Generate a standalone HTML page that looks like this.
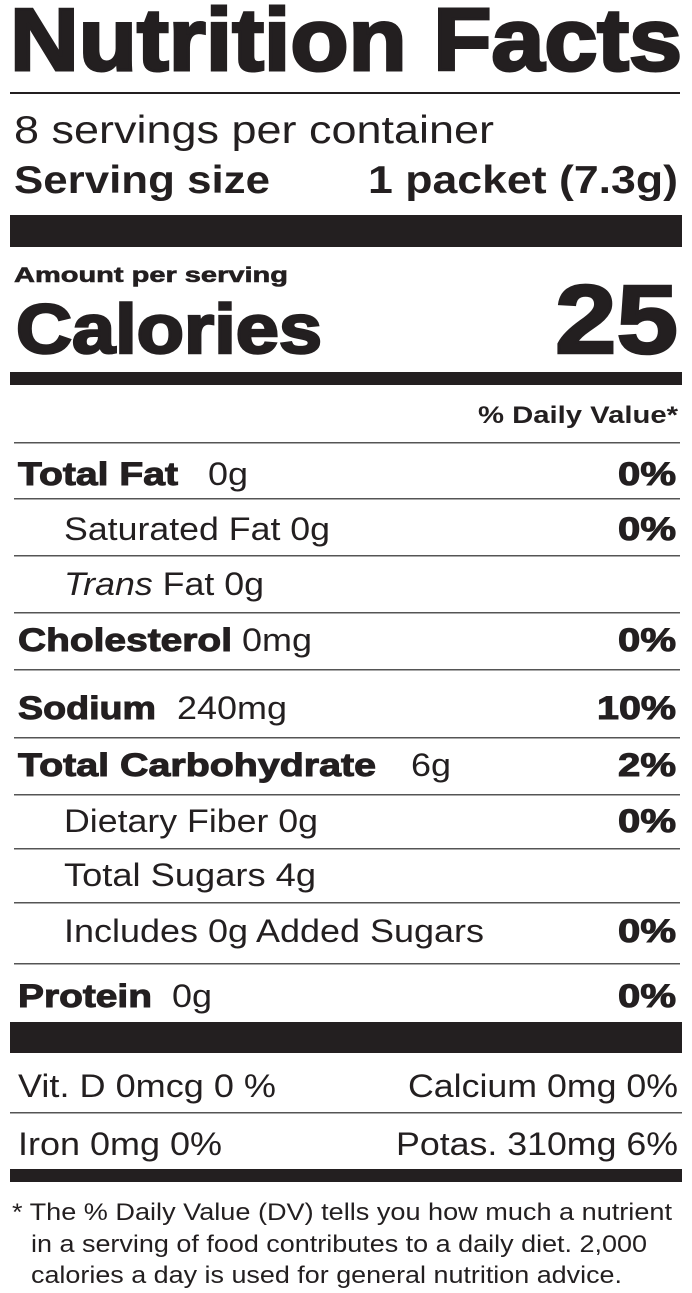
<!DOCTYPE html>
<html><head><meta charset="utf-8"><style>
html,body{margin:0;padding:0;background:#fff}
svg{display:block}
text{font-family:"Liberation Sans",Arial,sans-serif;fill:#231f20}
.b{font-weight:bold}
</style></head><body>
<svg width="692" height="1293" viewBox="0 0 692 1293" xmlns="http://www.w3.org/2000/svg">
<text x="10" y="70" class="b" font-size="88" textLength="672" lengthAdjust="spacingAndGlyphs" stroke="#231f20" stroke-width="3">Nutrition Facts</text>
<rect x="10" y="92" width="670" height="2" fill="#231f20"/>
<text x="14" y="143" font-size="39" textLength="480" lengthAdjust="spacingAndGlyphs">8 servings per container</text>
<text x="14" y="193" class="b" font-size="39" textLength="256" lengthAdjust="spacingAndGlyphs">Serving size</text>
<text x="368" y="193" class="b" font-size="39" textLength="310" lengthAdjust="spacingAndGlyphs">1 packet (7.3g)</text>
<rect x="10" y="215" width="672" height="32" fill="#231f20"/>
<text x="14" y="282" class="b" font-size="21" textLength="274" lengthAdjust="spacingAndGlyphs" stroke="#231f20" stroke-width=".6">Amount per serving</text>
<text x="16" y="353" class="b" font-size="70" textLength="306" lengthAdjust="spacingAndGlyphs" stroke="#231f20" stroke-width="2.5">Calories</text>
<text x="555" y="353" class="b" font-size="97" textLength="123" lengthAdjust="spacingAndGlyphs" stroke="#231f20" stroke-width="2.5">25</text>
<rect x="10" y="372" width="672" height="13" fill="#231f20"/>
<text x="478" y="423" class="b" font-size="24" textLength="200" lengthAdjust="spacingAndGlyphs">% Daily Value*</text>
<g fill="#555">
<rect x="14" y="442" width="666" height="1.5"/>
<rect x="14" y="498" width="666" height="1.5"/>
<rect x="14" y="555" width="666" height="1.5"/>
<rect x="14" y="612" width="666" height="1.5"/>
<rect x="14" y="669" width="666" height="1.5"/>
<rect x="14" y="737" width="666" height="1.5"/>
<rect x="14" y="794" width="666" height="1.5"/>
<rect x="14" y="848" width="666" height="1.5"/>
<rect x="14" y="902" width="666" height="1.5"/>
<rect x="14" y="963" width="666" height="1.5"/>
<rect x="10" y="1112" width="672" height="1.5"/>
</g>
<g font-size="32">
<text x="18" y="485" class="b" textLength="160" lengthAdjust="spacingAndGlyphs" stroke="#231f20" stroke-width="1">Total Fat</text>
<text x="208" y="485" textLength="40" lengthAdjust="spacingAndGlyphs">0g</text>
<text x="618" y="485" class="b" textLength="58" lengthAdjust="spacingAndGlyphs" stroke="#231f20" stroke-width="1">0%</text>
<text x="64" y="540" textLength="266" lengthAdjust="spacingAndGlyphs">Saturated Fat 0g</text>
<text x="618" y="540" class="b" textLength="58" lengthAdjust="spacingAndGlyphs" stroke="#231f20" stroke-width="1">0%</text>
<text x="64" y="595" textLength="200" lengthAdjust="spacingAndGlyphs"><tspan font-style="italic">Trans</tspan> Fat 0g</text>
<text x="18" y="651" class="b" textLength="214" lengthAdjust="spacingAndGlyphs" stroke="#231f20" stroke-width="1">Cholesterol</text>
<text x="242" y="651" textLength="70" lengthAdjust="spacingAndGlyphs">0mg</text>
<text x="618" y="651" class="b" textLength="58" lengthAdjust="spacingAndGlyphs" stroke="#231f20" stroke-width="1">0%</text>
<text x="18" y="719" class="b" textLength="138" lengthAdjust="spacingAndGlyphs" stroke="#231f20" stroke-width="1">Sodium</text>
<text x="177" y="719" textLength="110" lengthAdjust="spacingAndGlyphs">240mg</text>
<text x="597" y="719" class="b" textLength="79" lengthAdjust="spacingAndGlyphs" stroke="#231f20" stroke-width="1">10%</text>
<text x="18" y="776" class="b" textLength="358" lengthAdjust="spacingAndGlyphs" stroke="#231f20" stroke-width="1">Total Carbohydrate</text>
<text x="411" y="776" textLength="40" lengthAdjust="spacingAndGlyphs">6g</text>
<text x="618" y="776" class="b" textLength="58" lengthAdjust="spacingAndGlyphs" stroke="#231f20" stroke-width="1">2%</text>
<text x="64" y="832" textLength="254" lengthAdjust="spacingAndGlyphs">Dietary Fiber 0g</text>
<text x="618" y="832" class="b" textLength="58" lengthAdjust="spacingAndGlyphs" stroke="#231f20" stroke-width="1">0%</text>
<text x="64" y="886" textLength="252" lengthAdjust="spacingAndGlyphs">Total Sugars 4g</text>
<text x="64" y="942" textLength="420" lengthAdjust="spacingAndGlyphs">Includes 0g Added Sugars</text>
<text x="618" y="942" class="b" textLength="58" lengthAdjust="spacingAndGlyphs" stroke="#231f20" stroke-width="1">0%</text>
<text x="18" y="1007" class="b" textLength="134" lengthAdjust="spacingAndGlyphs" stroke="#231f20" stroke-width="1">Protein</text>
<text x="172" y="1007" textLength="40" lengthAdjust="spacingAndGlyphs">0g</text>
<text x="618" y="1007" class="b" textLength="58" lengthAdjust="spacingAndGlyphs" stroke="#231f20" stroke-width="1">0%</text>
</g>
<rect x="10" y="1022" width="672" height="31" fill="#231f20"/>
<g font-size="32">
<text x="18" y="1097" textLength="258" lengthAdjust="spacingAndGlyphs">Vit. D 0mcg 0 %</text>
<text x="678" y="1097" text-anchor="end" textLength="270" lengthAdjust="spacingAndGlyphs">Calcium 0mg 0%</text>
<text x="18" y="1155" textLength="204" lengthAdjust="spacingAndGlyphs">Iron 0mg 0%</text>
<text x="678" y="1155" text-anchor="end" textLength="282" lengthAdjust="spacingAndGlyphs">Potas. 310mg 6%</text>
</g>
<rect x="10" y="1169" width="672" height="13" fill="#231f20"/>
<g font-size="24">
<text x="12" y="1220" textLength="660" lengthAdjust="spacingAndGlyphs">* The % Daily Value (DV) tells you how much a nutrient</text>
<text x="31" y="1252" textLength="616" lengthAdjust="spacingAndGlyphs">in a serving of food contributes to a daily diet. 2,000</text>
<text x="31" y="1283" textLength="591" lengthAdjust="spacingAndGlyphs">calories a day is used for general nutrition advice.</text>
</g>
</svg>
</body></html>
